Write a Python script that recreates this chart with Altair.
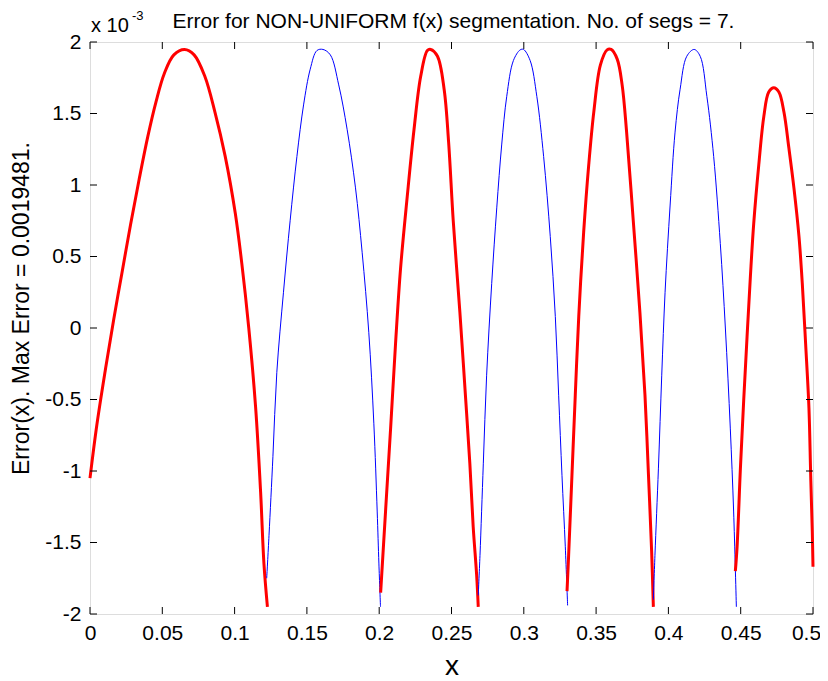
import altair as alt
import pandas as pd

# Segment data (x, error in units of 1e-3)
seg1_x = [0.0, 0.0047, 0.0105, 0.0164, 0.022, 0.028, 0.034, 0.040, 0.0456, 0.0514, 0.058, 0.0654,
          0.072, 0.0794, 0.0864, 0.0935, 0.1005, 0.105, 0.1098, 0.1145, 0.118, 0.1203, 0.1227]
seg1_y = [-1.05, -0.68, -0.30, 0.06, 0.38, 0.72, 1.04, 1.34, 1.58, 1.78, 1.91, 1.948,
          1.91, 1.76, 1.51, 1.20, 0.80, 0.45, 0.0, -0.55, -1.15, -1.65, -1.95]

seg2_x = [0.1222, 0.1238, 0.1265, 0.1292, 0.1338, 0.1384, 0.1431, 0.1477, 0.1523, 0.1569, 0.1611,
          0.1662, 0.172, 0.1778, 0.1836, 0.1882, 0.1928, 0.1963, 0.1986, 0.1998, 0.2009]
seg2_y = [-1.75, -1.45, -0.9, -0.31, 0.25, 0.75, 1.2, 1.56, 1.81, 1.94, 1.948,
          1.91, 1.70, 1.39, 0.98, 0.53, -0.03, -0.67, -1.28, -1.65, -1.95]

seg3_x = [0.2010, 0.2044, 0.2079, 0.2113, 0.2148, 0.2194, 0.2241, 0.2287, 0.2333, 0.2356, 0.2403,
          0.2449, 0.2480, 0.2512, 0.2558, 0.2593, 0.2627, 0.2650, 0.2674, 0.2685]
seg3_y = [-1.85, -1.28, -0.70, -0.11, 0.42, 0.92, 1.39, 1.76, 1.94, 1.948, 1.90,
          1.67, 1.30, 0.75, 0.11, -0.42, -0.95, -1.39, -1.73, -1.95]

seg4_x = [0.2685, 0.2697, 0.2720, 0.2743, 0.2778, 0.2813, 0.2847, 0.2882, 0.2928, 0.2975, 0.2998,
          0.3044, 0.3090, 0.3137, 0.3183, 0.3218, 0.3241, 0.3264, 0.3287, 0.3303]
seg4_y = [-1.87, -1.59, -0.95, -0.33, 0.31, 0.84, 1.28, 1.62, 1.87, 1.945, 1.948,
          1.87, 1.62, 1.20, 0.64, 0.08, -0.47, -1.03, -1.53, -1.94]

seg5_x = [0.3299, 0.3310, 0.3333, 0.3356, 0.3380, 0.3414, 0.3449, 0.3484, 0.3530, 0.3576, 0.3604,
          0.3646, 0.3680, 0.3711, 0.3757, 0.3803, 0.3838, 0.3861, 0.3884, 0.3896]
seg5_y = [-1.84, -1.59, -1.03, -0.47, 0.08, 0.67, 1.14, 1.51, 1.84, 1.945, 1.948,
          1.88, 1.70, 1.37, 0.75, 0.11, -0.47, -1.0, -1.56, -1.95]

seg6_x = [0.3896, 0.3907, 0.3931, 0.3954, 0.3977, 0.4012, 0.4046, 0.4081, 0.4127, 0.4178, 0.4220,
          0.4266, 0.4313, 0.4359, 0.4394, 0.4428, 0.4451, 0.4470]
seg6_y = [-1.90, -1.59, -0.98, -0.33, 0.25, 0.86, 1.37, 1.67, 1.90, 1.948, 1.90,
          1.62, 1.20, 0.59, 0.0, -0.70, -1.28, -1.95]

seg7_x = [0.4463, 0.4475, 0.4498, 0.4521, 0.4544, 0.4567, 0.4590, 0.4625, 0.4660, 0.4694, 0.4729,
          0.4764, 0.4799, 0.4833, 0.4868, 0.4903, 0.4926, 0.4949, 0.4972, 0.4984, 0.4995, 0.5000]
seg7_y = [-1.70, -1.53, -0.98, -0.50, -0.06, 0.36, 0.73, 1.14, 1.48, 1.65, 1.68,
          1.65, 1.51, 1.26, 0.98, 0.64, 0.31, -0.11, -0.56, -1.03, -1.42, -1.67]

seg_kinds = ["red", "blue", "red", "blue", "red", "blue", "red"]

x_ticks = [0, 0.05, 0.1, 0.15, 0.2, 0.25, 0.3, 0.35, 0.4, 0.45, 0.5]
y_ticks = [-2, -1.5, -1, -0.5, 0, 0.5, 1, 1.5, 2]

title_text = "Error for NON-UNIFORM f(x) segmentation. No. of segs = 7."
y_title = "Error(x). Max Error = 0.0019481."
x_title = "x"
exp_text = "x 10"
exp_sup_text = "-3"

segs = [(seg1_x, seg1_y), (seg2_x, seg2_y), (seg3_x, seg3_y), (seg4_x, seg4_y),
        (seg5_x, seg5_y), (seg6_x, seg6_y), (seg7_x, seg7_y)]
rows = []
for i, ((xs, ys), kind) in enumerate(zip(segs, seg_kinds)):
    for j, (xv, yv) in enumerate(zip(xs, ys)):
        rows.append({"x": xv, "y": yv, "seg": i + 1, "kind": kind, "o": j})
df = pd.DataFrame(rows)

W, H = 723, 572
FONT = "Liberation Sans"

xscale = alt.Scale(domain=[0, 0.5], nice=False, zero=False)
yscale = alt.Scale(domain=[-2, 2], nice=False, zero=False)

lines = alt.Chart(df).mark_line(interpolate="catmull-rom").encode(
    x=alt.X("x:Q", scale=xscale,
            axis=alt.Axis(values=x_ticks, labelExpr="datum.value + ''", ticks=False, domain=False,
                          grid=False, labelFont=FONT, labelFontSize=21, labelColor="black",
                          labelPadding=8, labelFlush=False,
                          labelOffset={"condition": {"test": "datum.value == 0.5", "value": -7},
                                       "value": 0},
                          title=x_title, titleFont=FONT,
                          titleFontSize=28, titleFontWeight="normal", titleColor="black",
                          titleBaseline="alphabetic", titleY=60, titleX=W / 2)),
    y=alt.Y("y:Q", scale=yscale,
            axis=alt.Axis(values=y_ticks, labelExpr="datum.value + ''", ticks=False, domain=False,
                          grid=False, labelFont=FONT, labelFontSize=21, labelColor="black",
                          labelPadding=9, labelFlush=False, title=y_title, titleFont=FONT,
                          titleFontSize=23, titleFontWeight="normal", titleColor="black",
                          titleX=-57, titleY=266)),
    color=alt.Color("kind:N", scale=alt.Scale(domain=["red", "blue"], range=["#ff0000", "#0000ff"]),
                    legend=None),
    strokeWidth=alt.StrokeWidth("kind:N", scale=alt.Scale(domain=["red", "blue"], range=[3, 1]),
                                legend=None),
    detail="seg:N",
    order="o:Q",
)

xt = pd.DataFrame({"t": x_ticks})
yt = pd.DataFrame({"t": y_ticks})
TL = 7
tick_bottom = alt.Chart(xt).mark_rule(color="black", strokeWidth=1).encode(
    x=alt.X("t:Q", scale=xscale), y=alt.value(H), y2=alt.value(H - TL))
tick_top = alt.Chart(xt).mark_rule(color="black", strokeWidth=1).encode(
    x=alt.X("t:Q", scale=xscale), y=alt.value(0), y2=alt.value(TL))
tick_left = alt.Chart(yt).mark_rule(color="black", strokeWidth=1).encode(
    y=alt.Y("t:Q", scale=yscale), x=alt.value(0), x2=alt.value(TL))
tick_right = alt.Chart(yt).mark_rule(color="black", strokeWidth=1).encode(
    y=alt.Y("t:Q", scale=yscale), x=alt.value(W), x2=alt.value(W - TL))

title_mark = alt.Chart(pd.DataFrame({"s": [title_text]})).mark_text(
    font=FONT, fontSize=21, align="center", baseline="alphabetic", color="black"
).encode(text="s:N", x=alt.value(W / 2 + 2), y=alt.value(-14))
exp_base = alt.Chart(pd.DataFrame({"s": [exp_text]})).mark_text(
    font=FONT, fontSize=20, align="left", baseline="alphabetic", color="black"
).encode(text="s:N", x=alt.value(1), y=alt.value(-10))
exp_sup = alt.Chart(pd.DataFrame({"s": [exp_sup_text]})).mark_text(
    font=FONT, fontSize=13, align="left", baseline="alphabetic", color="black"
).encode(text="s:N", x=alt.value(42), y=alt.value(-22))

chart = alt.layer(lines, tick_bottom, tick_top, tick_left, tick_right,
                  title_mark, exp_base, exp_sup).properties(
    width=W, height=H,
    autosize=alt.AutoSizeParams(type="none"),
    padding={"left": 82, "top": 34, "right": 7, "bottom": 67},
).configure_view(stroke="black", strokeWidth=1).configure(background="white")

chart.save("out.html", embed_options={"renderer": "svg", "actions": False})
